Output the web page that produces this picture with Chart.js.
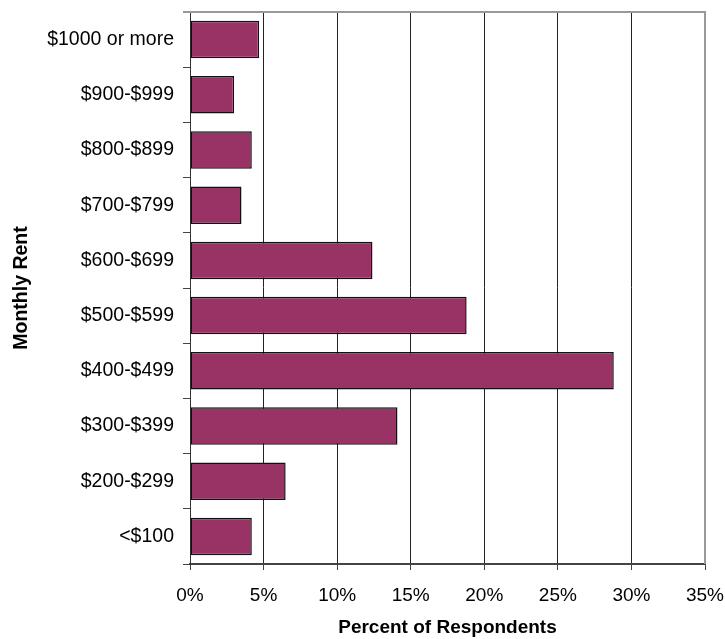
<!DOCTYPE html>
<html>
<head>
<meta charset="utf-8">
<script src="https://cdn.jsdelivr.net/npm/chart.js@4.4.1/dist/chart.umd.min.js"></script>
<style>
  html, body { margin: 0; padding: 0; background: #fff; }
  #wrap { width: 725px; height: 639px; }
</style>
</head>
<body>
<div id="wrap"><canvas id="rentChart" width="725" height="639"></canvas></div>
<script>
  // monthly rent brackets, top to bottom
  var rentLabels = ["$1000 or more", "$900-$999", "$800-$899", "$700-$799", "$600-$699",
                    "$500-$599", "$400-$499", "$300-$399", "$200-$299", "<$100"];
  // percent of respondents in each bracket
  var rentPercent = [4.7, 3.0, 4.2, 3.5, 12.4, 18.8, 28.8, 14.1, 6.5, 4.2];
  var pctTicks = [0, 5, 10, 15, 20, 25, 30, 35];

  var fontFamily = "'Liberation Sans', Arial, sans-serif";

  // grey frame along the top and right of the plot
  var frame = {
    id: 'frame',
    afterDraw: function(chart) {
      var a = chart.chartArea, c = chart.ctx;
      c.save();
      c.strokeStyle = '#999';
      c.lineWidth = 2;
      c.beginPath();
      c.moveTo(a.left - 7, a.top);
      c.lineTo(a.right, a.top);
      c.lineTo(a.right, a.bottom);
      c.stroke();
      c.restore();
    }
  };

  var ctx = document.getElementById("rentChart").getContext('2d');
  var myChart = new Chart(ctx, {
    type: 'bar',
    data: {
      labels: rentLabels,
      datasets: [{
        label: 'Percent of Respondents',
        data: rentPercent,
        backgroundColor: "#993366",
        borderColor: "#111",
        borderWidth: 1.5,
        borderSkipped: false,
        barPercentage: 0.68,
        categoryPercentage: 1
      }]
    },
    options: {
      indexAxis: 'y',
      responsive: false,
      animation: false,
      layout: { padding: { top: 12, right: 20, left: 0, bottom: 0 } },
      plugins: { legend: { display: false }, tooltip: { enabled: false } },
      scales: {
        x: {
          min: 0,
          max: 35,
          afterFit: function(s) { s.height = 75; s.paddingLeft = 0; s.paddingRight = 0; },
          afterBuildTicks: function(s) { s.ticks = pctTicks.map(function(v) { return { value: v }; }); },
          grid: {
            color: function(c) { return c.tick && c.tick.value === 35 ? '#999' : '#222'; },
            lineWidth: 1,
            tickLength: 6,
            tickColor: '#444'
          },
          border: { color: '#444', width: 2 },
          ticks: {
            color: '#000',
            font: { family: fontFamily, size: 19 },
            padding: 14,
            maxRotation: 0,
            callback: function(v) { return v + '%'; }
          },
          title: {
            display: true,
            text: 'Percent of Respondents',
            color: '#000',
            font: { family: fontFamily, size: 19, weight: 'bold' },
            padding: { top: 4, bottom: 0 }
          }
        },
        y: {
          afterFit: function(s) { s.width = 190; s.paddingTop = 0; s.paddingBottom = 0; },
          grid: {
            offset: true,
            drawOnChartArea: false,
            tickLength: 7,
            color: '#444'
          },
          border: { color: '#333', width: 1 },
          ticks: {
            color: '#000',
            font: { family: fontFamily, size: 19.5 },
            padding: 9
          },
          title: {
            display: true,
            text: 'Monthly Rent',
            color: '#000',
            font: { family: fontFamily, size: 19.5, weight: 'bold' },
            padding: { top: 10, bottom: 4 }
          }
        }
      }
    },
    plugins: [frame]
  });
</script>
</body>
</html>
